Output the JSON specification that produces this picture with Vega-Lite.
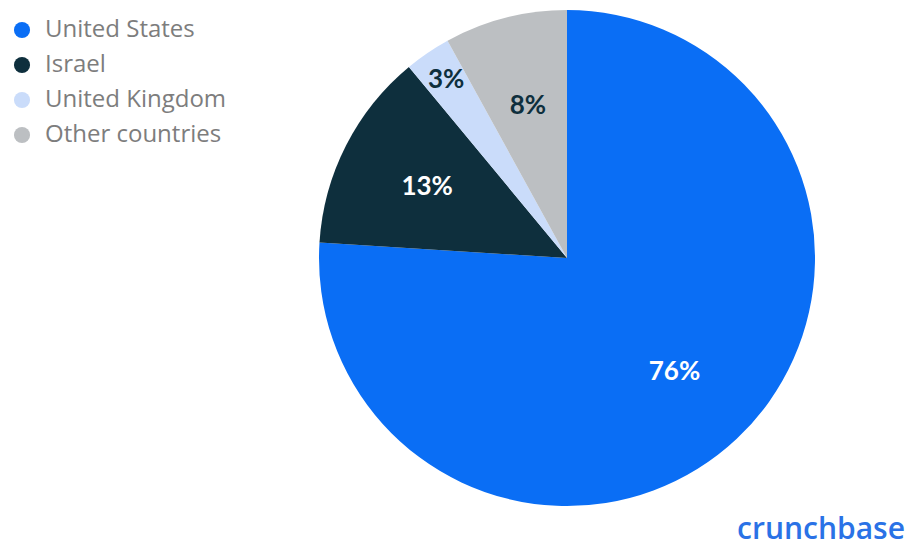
{
  "$schema": "https://vega.github.io/schema/vega-lite/v6.json",
  "width": 496,
  "height": 496,
  "autosize": {"type": "none"},
  "padding": {"left": 319, "top": 10, "right": 95, "bottom": 42},
  "background": "white",
  "title": {
    "text": "crunchbase",
    "orient": "bottom",
    "anchor": "end",
    "color": "#2a72e6",
    "font": "Open Sans",
    "fontSize": 30,
    "fontWeight": 600,
    "offset": 9,
    "dx": 90
  },
  "data": {
    "values": [
      {"country": "United States", "value": 76, "label": "76%", "rank": 1},
      {"country": "Israel", "value": 13, "label": "13%", "rank": 2},
      {"country": "United Kingdom", "value": 3, "label": "3%", "rank": 3},
      {"country": "Other countries", "value": 8, "label": "8%", "rank": 4}
    ]
  },
  "encoding": {
    "theta": {"field": "value", "type": "quantitative", "stack": true},
    "order": {"field": "rank", "type": "quantitative"},
    "color": {
      "field": "country",
      "type": "nominal",
      "scale": {
        "domain": ["United States", "Israel", "United Kingdom", "Other countries"],
        "range": ["#0a6ef5", "#0e2f3d", "#cadcfa", "#bcbfc2"]
      },
      "legend": {
        "title": null,
        "orient": "none",
        "legendX": -309,
        "legendY": 8,
        "symbolType": "circle",
        "symbolSize": 260,
        "symbolStrokeWidth": 0,
        "labelFont": "Open Sans",
        "labelFontSize": 24,
        "labelColor": "#7d7d7d",
        "labelOffset": 11,
        "rowPadding": 11,
        "labelLimit": 400
      }
    }
  },
  "layer": [
    {"mark": {"type": "arc", "outerRadius": 248, "stroke": null}},
    {
      "mark": {"type": "text", "radius": 157, "font": "Lato", "fontSize": 26, "fontWeight": "bold"},
      "encoding": {
        "text": {"condition": {"test": "datum.country == 'United Kingdom'", "value": ""}, "field": "label"},
        "color": {"condition": {"test": "datum.country == 'United States' || datum.country == 'Israel'", "value": "#ffffff"}, "value": "#0e2f3d"}
      }
    },
    {
      "mark": {"type": "text", "radius": 215, "font": "Lato", "fontSize": 26, "fontWeight": "bold"},
      "encoding": {
        "text": {"condition": {"test": "datum.country != 'United Kingdom'", "value": ""}, "field": "label"},
        "color": {"value": "#0e2f3d"}
      }
    }
  ]
}
